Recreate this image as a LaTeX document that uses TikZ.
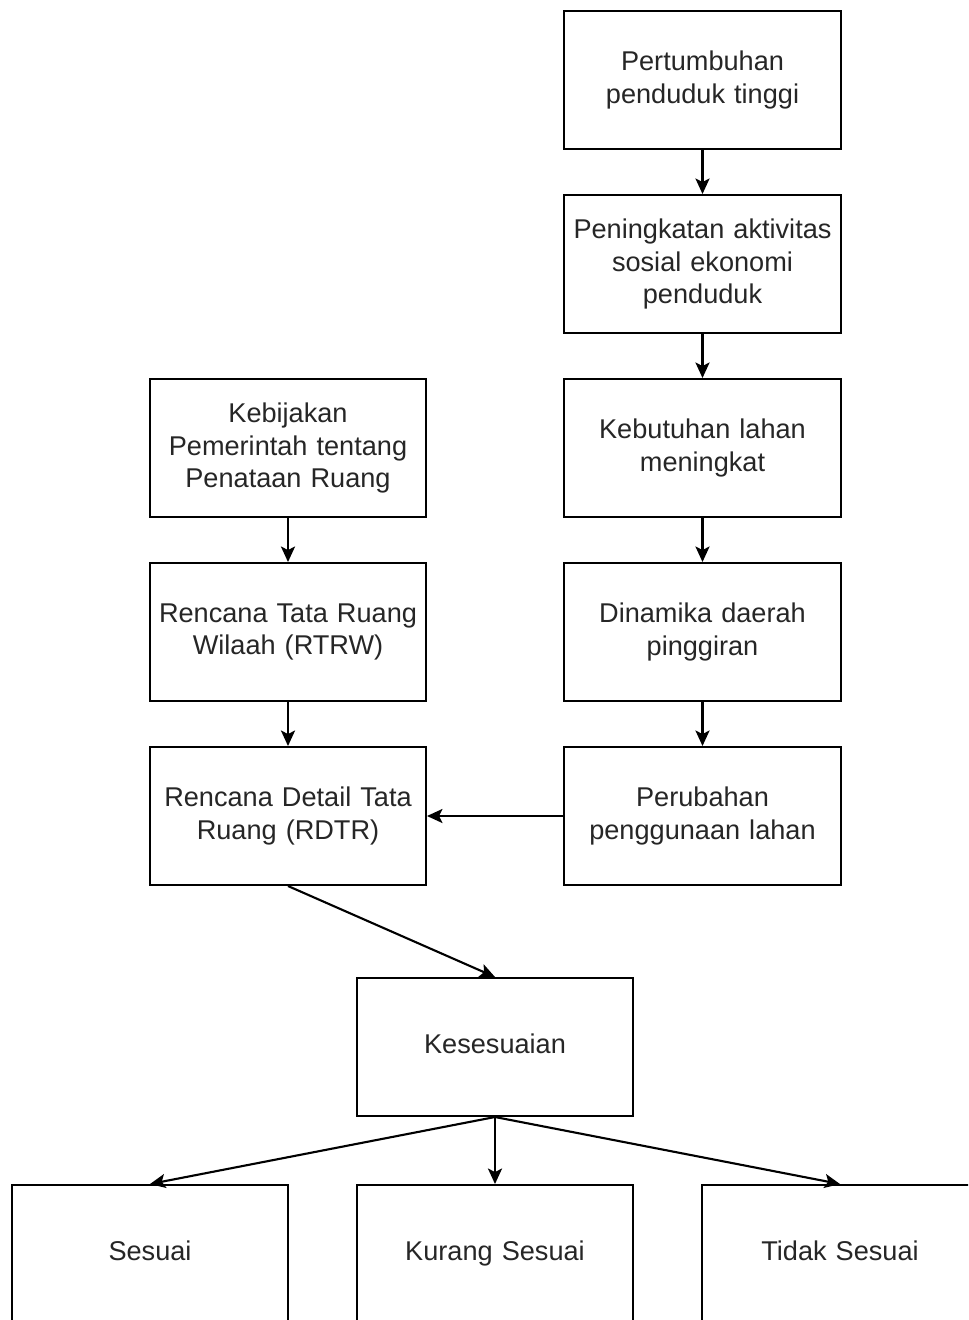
\documentclass[tikz,border=0pt]{standalone}
\usepackage{fontspec}
\setmainfont{Liberation Sans}
\usetikzlibrary{arrows.meta,positioning}

\begin{document}
\begin{tikzpicture}[
  x=0.025cm, y=-0.025cm,
  every node/.style={font=\fontsize{19.3}{23.2}\selectfont, text=black!85},
  box/.style={draw=black, line width=1.4pt, fill=white, minimum width=6.9cm, minimum height=3.45cm, inner sep=0pt, align=center, text width=6.8cm},
  result/.style={box, execute at begin node=\strut},
  link/.style={->, >={Stealth[length=11pt,width=10pt,inset=2.5pt]}, line width=1.5pt}
]
\clip (0,0) rectangle (968,1320);
\fill[white] (0,0) rectangle (968,1320);

% right column
\node[box] (pt) at (702.5,80) {Pertumbuhan\\penduduk tinggi};
\node[box] (ak) at (702.5,264) {Peningkatan aktivitas\\sosial ekonomi\\penduduk};
\node[box] (kl) at (702.5,448) {Kebutuhan lahan\\meningkat};
\node[box] (dp) at (702.5,632) {Dinamika daerah\\pinggiran};
\node[box] (pl) at (702.5,816) {Perubahan\\penggunaan lahan};

% left column
\node[box] (kp) at (288,448) {Kebijakan\\Pemerintah tentang\\Penataan Ruang};
\node[box] (rtrw) at (288,632) {Rencana Tata Ruang\\Wilaah (RTRW)};
\node[box] (rdtr) at (288,816) {Rencana Detail Tata\\Ruang (RDTR)};

% result
\node[result] (ks) at (495,1047) {Kesesuaian};
\node[result] (ss) at (150,1254) {Sesuai};
\node[result] (kg) at (495,1254) {Kurang Sesuai};
\node[result] (ts) at (840,1254) {Tidak Sesuai};

\draw[link] (pt) -- (ak);
\draw[link] (ak) -- (kl);
\draw[link] (kl) -- (dp);
\draw[link] (dp) -- (pl);
\draw[link] (kp) -- (rtrw);
\draw[link] (rtrw) -- (rdtr);
\draw[link] (pl) -- (rdtr);
\draw[link] (rdtr.south) -- (ks.north);
\draw[link] (ks.south) -- (ss.north);
\draw[link] (ks.south) -- (kg.north);
\draw[link] (ks.south) -- (ts.north);
\end{tikzpicture}
\end{document}
